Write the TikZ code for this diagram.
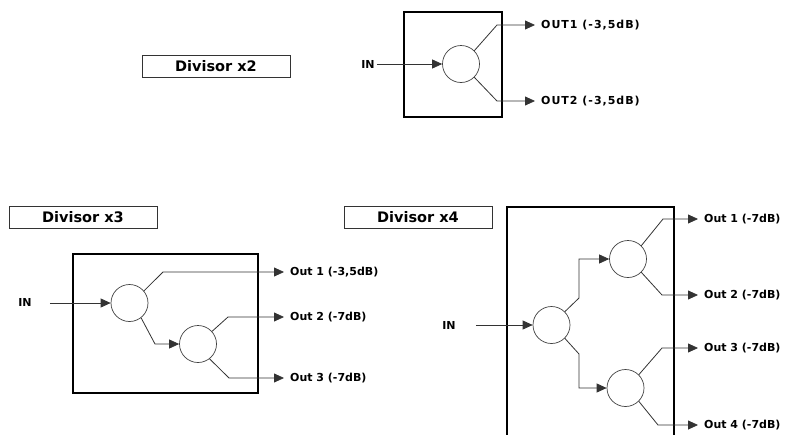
\documentclass[tikz,border=0pt]{standalone}
\usepackage{fontspec}
\setmainfont{DejaVu Sans}
\usetikzlibrary{arrows.meta}
\begin{document}
\begin{tikzpicture}[x=1pt,y=-1pt,
  bigbox/.style={draw=black,line width=1.6pt},
  titlebox/.style={draw=black!80,line width=0.9pt,minimum width=148pt,minimum height=22pt,inner sep=0pt,
     font=\fontsize{14.5}{17}\selectfont\bfseries},
  split/.style={circle,draw=black!75,line width=0.7pt,minimum size=37pt,inner sep=0pt},
  wire/.style={draw=black!80,line width=0.8pt},
  arr/.style={wire,-{Triangle[length=10pt,width=9pt]}},
  inlab/.style={font=\fontsize{11}{13}\selectfont\bfseries,inner sep=2pt},
  outbig/.style={anchor=west,inner xsep=6pt,inner ysep=1pt,
     font=\fontsize{11}{13}\selectfont\bfseries\addfontfeature{LetterSpace=9}},
  outsm/.style={anchor=west,inner xsep=6pt,inner ysep=1pt,
     font=\fontsize{11}{13}\selectfont\bfseries}
]
\useasboundingbox (0,0) rectangle (787,434);
\clip (0,0) rectangle (787,434);

% ---------- Divisor x2 ----------
\node[titlebox] (t2) at (216,66.5) {Divisor x2};
\draw[bigbox] (404,12) rectangle (502,117);
\node[split] (c) at (461,64) {};
\node[inlab] (in1) at (368,64) {IN};
\node[outbig] (o21) at (535,25) {OUT1 (-3,5dB)};
\node[outbig] (o22) at (535,101) {OUT2 (-3,5dB)};
\draw[arr] (in1.east) -- (c.west);
\draw[arr] (c.45) -- (497,25) -- (o21.west);
\draw[arr] (c.-45) -- (497,101) -- (o22.west);

% ---------- Divisor x3 ----------
\node[titlebox] (t3) at (83,217.5) {Divisor x3};
\draw[bigbox] (73,254) rectangle (258,393);
\node[split] (c1) at (129.5,303) {};
\node[split] (c2) at (198,344) {};
\node[inlab] (in3) at (25,302) {IN};
\node[outsm] (o31) at (284,272) {Out 1 (-3,5dB)};
\node[outsm] (o32) at (284,317) {Out 2 (-7dB)};
\node[outsm] (o33) at (284,378) {Out 3 (-7dB)};
\draw[arr] (in3.east) ++(16,1) -- (c1.west);
\draw[arr] (c1.40) -- (163,272) -- (o31.west);
\draw[arr] (c1.-52) -- (155,344) -- (c2.west);
\draw[arr] (c2.42) -- (228,317) -- (o32.west);
\draw[arr] (c2.-52) -- (229,378) -- (o33.west);

% ---------- Divisor x4 ----------
\node[titlebox] (t4) at (418,217.5) {Divisor x4};
\draw[bigbox] (507,207) rectangle (674,450);
\node[split] (cA) at (551.5,325) {};
\node[split] (cB) at (628,259) {};
\node[split] (cC) at (625.5,388) {};
\node[inlab] (in4) at (449,325) {IN};
\node[outsm] (o41) at (698,219) {Out 1 (-7dB)};
\node[outsm] (o42) at (698,295) {Out 2 (-7dB)};
\node[outsm] (o43) at (698,348) {Out 3 (-7dB)};
\node[outsm] (o44) at (698,425) {Out 4 (-7dB)};
\draw[arr] (in4.east) ++(18,0) -- (cA.west);
\draw[arr] (cA.45) -- (579,298) -- (579,259) -- (cB.west);
\draw[arr] (cA.-45) -- (579,354) -- (579,388) -- (cC.west);
\draw[arr] (cB.45) -- (663,219) -- (o41.west);
\draw[arr] (cB.-45) -- (662,295) -- (o42.west);
\draw[arr] (cC.45) -- (662,348) -- (o43.west);
\draw[arr] (cC.-45) -- (658,425) -- (o44.west);
\end{tikzpicture}
\end{document}
